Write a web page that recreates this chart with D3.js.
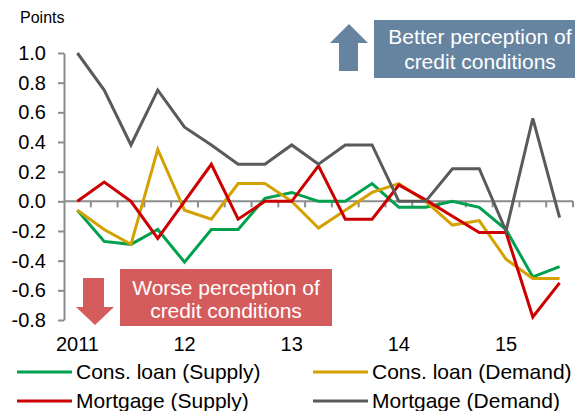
<!DOCTYPE html>
<html>
<head>
<meta charset="utf-8">
<script src="https://cdn.jsdelivr.net/npm/d3@7/dist/d3.min.js"></script>
<style>
  body { margin: 0; background: #fff; }
  svg text { font-family: "Liberation Sans", Arial, sans-serif; }
</style>
</head>
<body>
<div id="chart"></div>
<script>
// quarterly survey, 2011Q1 - 2015Q3
var quarters = ["2011Q1", "2011Q2", "2011Q3", "2011Q4",
                "2012Q1", "2012Q2", "2012Q3", "2012Q4",
                "2013Q1", "2013Q2", "2013Q3", "2013Q4",
                "2014Q1", "2014Q2", "2014Q3", "2014Q4",
                "2015Q1", "2015Q2", "2015Q3"];
var yearTicks = ["2011Q1", "2012Q1", "2013Q1", "2014Q1", "2015Q1"];
var yearLabels = ["2011", "12", "13", "14", "15"];
var yTicks = [-0.8, -0.6, -0.4, -0.2, 0, 0.2, 0.4, 0.6, 0.8, 1.0];

var consLoanSupply = [-0.06, -0.27, -0.29, -0.19, -0.41, -0.19, -0.19, 0.02, 0.06, 0.0,
                      0.0, 0.12, -0.04, -0.04, 0.0, -0.04, -0.19, -0.51, -0.44];
var consLoanDemand = [-0.06, -0.19, -0.29, 0.35, -0.06, -0.12, 0.12, 0.12, 0.0, -0.18,
                      -0.06, 0.06, 0.12, 0.0, -0.16, -0.13, -0.39, -0.52, -0.52];
var mortgageSupply = [0.0, 0.13, 0.0, -0.25, 0.0, 0.25, -0.12, 0.0, 0.0, 0.24,
                      -0.12, -0.12, 0.11, 0.01, -0.1, -0.21, -0.21, -0.78, -0.55];
var mortgageDemand = [1.0, 0.75, 0.38, 0.75, 0.5, 0.38, 0.25, 0.25, 0.38, 0.25,
                      0.38, 0.38, 0.0, 0.0, 0.22, 0.22, -0.2, 0.56, -0.11];

var series = [
    {name: "Cons. loan (Supply)", values: consLoanSupply, color: "#00a04e"},
    {name: "Cons. loan (Demand)", values: consLoanDemand, color: "#d4a100"},
    {name: "Mortgage (Supply)", values: mortgageSupply, color: "#cc0000"},
    {name: "Mortgage (Demand)", values: mortgageDemand, color: "#5a5a5a"}
];

var width = 575, height = 411;
var svg = d3.select("#chart").append("svg")
    .attr("width", width)
    .attr("height", height);

var x = d3.scaleBand().domain(quarters).range([64, 573]);
var y = d3.scaleLinear().domain([-0.8, 1.0]).range([320, 53]);
var axisColor = "#8c8c8c";

// y axis
var yAxis = svg.append("g")
    .attr("transform", "translate(64,0)")
    .call(d3.axisLeft(y).tickValues(yTicks).tickSize(6).tickSizeOuter(0).tickPadding(12)
        .tickFormat(function(d) { return d.toFixed(1); }));
yAxis.selectAll("path, line").attr("stroke", axisColor).attr("stroke-width", 2);
yAxis.selectAll("text").attr("font-size", 20).attr("fill", "#000");

// x axis sits on zero, ticks between quarters
var xAxis = svg.append("g")
    .attr("transform", "translate(0," + y(0) + ")");
xAxis.append("line")
    .attr("x1", x.range()[0]).attr("x2", x.range()[1])
    .attr("stroke", axisColor).attr("stroke-width", 2);
xAxis.selectAll(".qtick")
    .data(quarters)
    .enter().append("line")
    .attr("class", "qtick")
    .attr("x1", function(d) { return x(d) + x.step(); })
    .attr("x2", function(d) { return x(d) + x.step(); })
    .attr("y1", 0).attr("y2", 6)
    .attr("stroke", axisColor).attr("stroke-width", 2);

// year labels at the bottom
var xLabels = svg.append("g")
    .attr("transform", "translate(0,334)")
    .call(d3.axisBottom(x).tickValues(yearTicks).tickSize(0)
        .tickFormat(function(d) { return yearLabels[yearTicks.indexOf(d)]; }));
xLabels.select(".domain").remove();
xLabels.selectAll("text").attr("font-size", 20).attr("fill", "#000");

// series lines
var line = d3.line()
    .x(function(d, i) { return x(quarters[i]) + x.bandwidth() / 2; })
    .y(function(d) { return y(d); });

svg.append("g").selectAll("path")
    .data(series)
    .enter().append("path")
    .attr("d", function(d) { return line(d.values); })
    .attr("fill", "none")
    .attr("stroke", function(d) { return d.color; })
    .attr("stroke-width", 3);

// unit label
svg.append("text")
    .attr("x", 20).attr("y", 23)
    .attr("font-size", 16)
    .text("Points");

// annotation: better
svg.append("path")
    .attr("d", "M349,24 L368,43 L358,43 L358,71 L339,71 L339,43 L330,43 Z")
    .attr("fill", "#66849f");
svg.append("rect")
    .attr("x", 374).attr("y", 20).attr("width", 201).attr("height", 58)
    .attr("fill", "#66849f");
svg.append("text")
    .attr("x", 480).attr("y", 44).attr("text-anchor", "middle")
    .attr("font-size", 21).attr("fill", "#fff")
    .text("Better perception of");
svg.append("text")
    .attr("x", 480).attr("y", 69).attr("text-anchor", "middle")
    .attr("font-size", 21).attr("fill", "#fff")
    .text("credit conditions");

// annotation: worse
svg.append("path")
    .attr("d", "M83,278 L104,278 L104,307 L114,307 L95,325 L76,307 L83,307 Z")
    .attr("fill", "#d55c5c");
svg.append("rect")
    .attr("x", 120).attr("y", 269).attr("width", 212).attr("height", 57)
    .attr("fill", "#d55c5c");
svg.append("text")
    .attr("x", 226).attr("y", 295).attr("text-anchor", "middle")
    .attr("font-size", 21).attr("fill", "#fff")
    .text("Worse perception of");
svg.append("text")
    .attr("x", 226).attr("y", 318).attr("text-anchor", "middle")
    .attr("font-size", 21).attr("fill", "#fff")
    .text("credit conditions");

// legend, two columns
var legend = svg.append("g").selectAll("g")
    .data(series)
    .enter().append("g")
    .attr("transform", function(d, i) {
        return "translate(" + (i % 2 === 0 ? 17 : 313) + "," + (i < 2 ? 372 : 401) + ")";
    });
legend.append("line")
    .attr("x1", 0).attr("x2", 55)
    .attr("stroke", function(d) { return d.color; })
    .attr("stroke-width", 3);
legend.append("text")
    .attr("x", 59).attr("y", 7)
    .attr("font-size", 21)
    .text(function(d) { return d.name; });
</script>
</body>
</html>
